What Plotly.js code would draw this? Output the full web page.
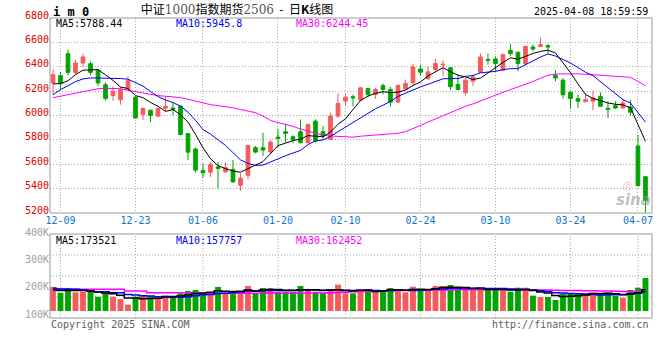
<!DOCTYPE html>
<html>
<head>
<meta charset="utf-8">
<script src="https://cdn.plot.ly/plotly-3.0.1.min.js"></script>
<style>html,body{margin:0;padding:0;background:#fff;}#chart{width:660px;height:360px;}</style>
</head>
<body>
<div id="chart"></div>
<script>
// ---------- data ----------
const dates = ['12-06','12-09','12-10','12-11','12-12','12-13','12-16','12-17','12-18','12-19','12-20','12-23','12-24','12-25','12-26','12-27','12-30','12-31',
'01-02','01-03','01-06','01-07','01-08','01-09','01-10','01-13','01-14','01-15','01-16','01-17','01-20','01-21','01-22','01-23','01-24','01-27',
'02-05','02-06','02-07','02-10','02-11','02-12','02-13','02-14','02-17','02-18','02-19','02-20','02-21','02-24','02-25','02-26','02-27','02-28',
'03-03','03-04','03-05','03-06','03-07','03-10','03-11','03-12','03-13','03-14','03-17','03-18','03-19','03-20','03-21','03-24','03-25','03-26','03-27','03-28','03-31',
'04-01','04-02','04-03','04-07','04-08'];

const openP = [6267,6327,6507,6354,6431,6425,6368,6253,6163,6130,
 6212,6150,6008,6043,5994,6059,6062,6076,5852,5726,
 5549,5535,5578,5537,5558,5427,5509,5736,5736,5700,
 5823,5867,5826,5867,5777,5954,5867,5804,5995,6118,
 6154,6126,6222,6173,6246,6214,6110,6219,6268,6382,
 6301,6377,6415,6391,6255,6187,6282,6355,6459,6464,
 6372,6535,6518,6426,6562,6567,6573,6330,6289,6190,
 6139,6114,6117,6158,6059,6081,6062,6070,5750,5498];
const highP = [6376,6357,6540,6458,6507,6444,6382,6272,6240,6234,
 6322,6158,6068,6049,6062,6158,6103,6081,5857,5735,
 5606,5617,5617,5613,5635,5526,5758,5750,5859,5796,
 5891,5932,5837,5968,5932,5968,5913,6023,6181,6181,
 6173,6235,6227,6227,6263,6235,6255,6295,6426,6418,
 6399,6464,6453,6399,6336,6309,6336,6508,6508,6486,
 6508,6589,6527,6573,6581,6640,6589,6371,6308,6199,
 6171,6180,6204,6190,6117,6117,6136,6130,5840,5500];
const lowP = [6171,6212,6330,6335,6398,6330,6240,6125,6122,6089,
 6207,5975,5961,5945,5988,6035,6000,5838,5634,5530,
 5489,5497,5400,5531,5449,5381,5477,5690,5668,5690,
 5736,5777,5771,5771,5771,5777,5799,5799,5982,6083,
 6077,6118,6154,6137,6173,6072,6105,6208,6246,6328,
 6295,6363,6323,6208,6208,6165,6241,6350,6418,6363,
 6363,6486,6363,6410,6527,6562,6508,6281,6139,6057,
 6062,6109,6043,6070,5980,6054,6057,6000,5424,5180];
const closeP = [6335,6261,6354,6431,6480,6354,6267,6139,6199,6212,
 6286,5980,6057,6000,6057,6076,6054,5844,5699,5552,
 5530,5598,5566,5572,5455,5485,5755,5700,5717,5782,
 5812,5853,5804,5777,5927,5790,5831,5995,6099,6151,
 6145,6227,6173,6214,6214,6110,6246,6263,6399,6355,
 6358,6426,6420,6236,6214,6290,6317,6480,6453,6426,
 6499,6508,6426,6567,6546,6581,6562,6308,6171,6139,
 6117,6130,6144,6076,6049,6062,6103,6027,5424,5301];

const ma5 = [6259,6262,6285,6335,6372,6376,6377,6334,6288,6234,
 6221,6163,6147,6107,6076,6034,6049,6006,5946,5845,
 5736,5645,5589,5564,5544,5535,5567,5593,5622,5688,
 5753,5773,5794,5806,5835,5830,5826,5864,5928,5973,
 6044,6123,6159,6182,6195,6188,6191,6209,6246,6275,
 6324,6360,6392,6359,6331,6317,6295,6307,6351,6393,
 6435,6473,6462,6485,6509,6526,6536,6513,6434,6352,
 6259,6173,6140,6121,6103,6092,6087,6064,5933,5788];
const ma10 = [6171,6212,6245,6278,6300,6308,6308,6308,6305,6303,
 6298,6270,6241,6197,6155,6127,6106,6077,6027,5961,
 5885,5847,5798,5755,5695,5636,5606,5591,5593,5616,
 5644,5670,5694,5714,5761,5792,5799,5829,5867,5904,
 5937,5975,6012,6055,6084,6116,6157,6184,6214,6235,
 6256,6276,6301,6303,6303,6321,6328,6350,6355,6362,
 6376,6384,6385,6418,6451,6480,6505,6488,6459,6431,
 6393,6355,6327,6277,6228,6176,6130,6102,6027,5946];
const ma30 = [6146,6158,6171,6185,6199,6212,6220,6223,6223,6220,
 6207,6196,6185,6171,6163,6158,6155,6147,6133,6117,
 6103,6089,6081,6075,6063,6050,6037,6023,5995,5960,
 5942,5929,5911,5889,5870,5852,5837,5832,5829,5827,
 5822,5830,5834,5841,5847,5848,5854,5868,5891,5918,
 5946,5973,6002,6024,6049,6076,6095,6121,6145,6167,
 6190,6212,6232,6259,6279,6306,6330,6340,6343,6342,
 6342,6338,6337,6333,6327,6326,6321,6313,6280,6244];

// volume, thousands of lots
const volumeK = [197,150,189,153,158,164,117,150,117,98,
 52,117,123,123,104,126,115,145,164,172,
 145,145,197,145,164,156,205,145,189,189,
 158,158,158,205,180,158,150,172,216,145,
 145,172,172,167,164,189,180,153,199,172,
 180,205,205,213,172,172,172,191,172,172,
 172,158,191,191,126,115,115,90,142,142,
 142,142,150,142,150,123,109,172,191,270];
const volMa5 = [172,167,167,167,169,163,156,148,141,129,
 107,107,101,103,104,119,118,123,131,144,
 148,154,165,161,159,161,173,163,172,177,
 177,168,170,174,172,172,170,173,175,168,
 166,170,170,160,164,173,174,171,177,179,
 177,182,192,195,195,193,187,184,176,176,
 176,173,173,177,168,156,148,127,118,121,
 126,132,144,144,145,141,135,139,149,173.5];
const volMa10 = [186,180,178,178,172,164,158,158,150,149,
 135,132,125,122,117,113,113,112,117,124,
 133,136,144,146,152,155,164,164,166,168,
 169,171,167,173,174,175,169,172,174,170,
 169,170,172,168,166,169,172,170,169,171,
 175,178,181,186,187,185,184,188,185,185,
 185,180,179,176,172,166,160,150,147,144,
 141,140,136,131,133,134,133,141,146,157.8];
const volMa30 = [178,178,178,178,178,178,178,178,178,178,
 164,164,164,150,150,150,150,150,150,150,
 145,145,145,145,145,145,145,145,146,147,
 146,146,145,147,148,147,148,149,152,154,
 157,159,161,162,164,166,168,169,170,170,
 171,173,173,175,176,176,175,177,176,176,
 176,176,177,177,175,173,172,170,167,167,
 167,166,165,164,164,162,159,160,160,162.5];

const dateTicks = ['12-09','12-23','01-06','01-20','02-10','02-24','03-10','03-24','04-07'];
const priceTicks = [5200,5400,5600,5800,6000,6200,6400,6600,6800];
const volTicks = [100,200,300,400];
const volTickText = ['100K','200K','300K','400K'];
const priceMaLabels = ['MA5:5788.44','MA10:5945.8','MA30:6244.45'];
const volMaLabels = ['MA5:173521','MA10:157757','MA30:162452'];
const maColors = ['#000000','#0000ff','#ff00ff'];
const titleText = '中证<span style="font-family:\'DejaVu Serif\';color:#555">1000</span>指数期货<span style="font-family:\'DejaVu Serif\';color:#555">2506</span>&nbsp; - &nbsp;日<b>K</b>线图';
const stampText = '2025-04-08 18:59:59';

// ---------- geometry helpers (pixel -> paper) ----------
const W = 660, H = 360;
const px = v => v / W;
const py = v => (H - v) / H;

const UP = '#f65a5a', DOWN = '#00a500', GRID = '#a8a8a8', FRAME = '#9a9a9a';
const mono = 'DejaVu Sans Mono, monospace';

const barColors = closeP.map((c, i) => c >= openP[i] ? UP : DOWN);

const traces = [
  {type:'candlestick', x:dates, open:openP, high:highP, low:lowP, close:closeP,
   xaxis:'x', yaxis:'y', whiskerwidth:0, hoverinfo:'skip',
   increasing:{line:{color:UP,width:1}, fillcolor:UP},
   decreasing:{line:{color:DOWN,width:1}, fillcolor:DOWN}},
  {type:'scatter', mode:'lines', x:dates, y:ma30, xaxis:'x', yaxis:'y', line:{color:maColors[2], width:1}, hoverinfo:'skip'},
  {type:'scatter', mode:'lines', x:dates, y:ma10, xaxis:'x', yaxis:'y', line:{color:maColors[1], width:1}, hoverinfo:'skip'},
  {type:'scatter', mode:'lines', x:dates, y:ma5, xaxis:'x', yaxis:'y', line:{color:maColors[0], width:1}, hoverinfo:'skip'},
  {type:'bar', x:dates, y:volumeK, xaxis:'x2', yaxis:'y2', marker:{color:barColors, line:{width:0}}, hoverinfo:'skip'},
  {type:'scatter', mode:'lines', x:dates, y:volMa30, xaxis:'x2', yaxis:'y2', line:{color:maColors[2], width:1.5, shape:'hvh'}, hoverinfo:'skip'},
  {type:'scatter', mode:'lines', x:dates, y:volMa10, xaxis:'x2', yaxis:'y2', line:{color:maColors[1], width:1.5, shape:'hvh'}, hoverinfo:'skip'},
  {type:'scatter', mode:'lines', x:dates, y:volMa5, xaxis:'x2', yaxis:'y2', line:{color:maColors[0], width:1.5, shape:'hvh'}, hoverinfo:'skip'},
  {type:'scatter', mode:'markers', x:[], y:[], xaxis:'x2', yaxis:'y3', hoverinfo:'skip'}
];

const xDomain = [px(50), px(652)];
const xRange = [-0.4, 79.87];

const shapes = [];
// panel frames
shapes.push({type:'rect', xref:'paper', yref:'paper', x0:xDomain[0], x1:xDomain[1], y0:py(213), y1:py(18), line:{color:FRAME, width:1}, layer:'above'});
shapes.push({type:'rect', xref:'paper', yref:'paper', x0:xDomain[0], x1:xDomain[1], y0:py(318), y1:py(234), line:{color:FRAME, width:1}, layer:'above'});
// volume panel dotted grid
[255, 276, 297].forEach(v => shapes.push({type:'line', xref:'paper', yref:'paper', x0:xDomain[0], x1:xDomain[1], y0:py(v), y1:py(v), line:{color:GRID, width:1, dash:'1px,2px'}, layer:'below'}));
dateTicks.forEach(d => {
  const i = dates.indexOf(d);
  shapes.push({type:'line', xref:'x2', yref:'paper', x0:i, x1:i, y0:py(318), y1:py(234), line:{color:GRID, width:1, dash:'1px,2px'}, layer:'below'});
});

const ann = (x, y, text, color, anchor, extra) => Object.assign({xref:'paper', yref:'paper', x:px(x), y:py(y), text:text, showarrow:false, xanchor:anchor, yanchor:'middle', font:{family:mono, size:10, color:color}}, extra || {});

const annotations = [
  ann(51, 12, '<b>i m 0</b>', '#000', 'left', {font:{family:mono, size:12, color:'#000'}}),
  ann(650, 12, stampText, '#000', 'right'),
  ann(54, 24, priceMaLabels[0], maColors[0], 'left'),
  ann(174, 24, priceMaLabels[1], maColors[1], 'left'),
  ann(294, 24, priceMaLabels[2], maColors[2], 'left'),
  ann(54, 240, volMaLabels[0], maColors[0], 'left'),
  ann(174, 240, volMaLabels[1], maColors[1], 'left'),
  ann(294, 240, volMaLabels[2], maColors[2], 'left'),
  ann(49, 324, 'Copyright 2025 SINA.COM', '#606060', 'left'),
  ann(651, 324, 'http://finance.sina.com.cn', '#606060', 'right'),
  ann(633, 200, '<b><i>sina</i></b>', 'rgba(150,150,150,0.6)', 'center', {font:{family:'DejaVu Sans', size:15, color:'rgba(150,150,150,0.6)'}}),
  ann(628, 186, '◎', 'rgba(235,80,80,0.45)', 'center', {font:{family:'DejaVu Sans', size:11, color:'rgba(235,80,80,0.45)'}})
];

const layout = {
  width: W, height: H,
  margin:{l:0, r:0, t:0, b:0, pad:0},
  paper_bgcolor:'#fff', plot_bgcolor:'#fff',
  showlegend:false, bargap:0.22,
  font:{family:mono, size:10, color:'#000'},
  title:{text:titleText, x:px(237), xanchor:'center', y:py(10), yanchor:'middle', font:{family:'Noto Sans CJK SC', size:12, color:'#000'}},
  xaxis:{type:'category', domain:xDomain, range:xRange, anchor:'y',
    tickmode:'array', tickvals:dateTicks, ticktext:dateTicks, ticks:'',
    tickfont:{family:mono, size:10, color:'#0a78d2'},
    showgrid:true, gridcolor:GRID, griddash:'1px,2px', gridwidth:1,
    showline:false, zeroline:false, rangeslider:{visible:false}, fixedrange:true},
  yaxis:{domain:[py(213), py(18)], range:[5200, 6800], anchor:'x',
    tickmode:'array', tickvals:priceTicks, ticks:'', ticklabelshift:-3,
    tickfont:{family:mono, size:10, color:'#e00000'},
    showgrid:true, gridcolor:GRID, griddash:'1px,2px', gridwidth:1,
    showline:false, zeroline:false, fixedrange:true},
  xaxis2:{type:'category', domain:xDomain, range:xRange, anchor:'y2',
    showticklabels:false, showgrid:false, showline:false, zeroline:false, ticks:'', fixedrange:true},
  yaxis2:{domain:[py(318), py(228)], range:[-57.4, 680.3], anchor:'x2',
    showticklabels:false, showgrid:false, showline:false, zeroline:false, ticks:'', fixedrange:true},
  yaxis3:{overlaying:'y2', anchor:'x2', side:'left', range:[86.1, 415.8],
    tickmode:'array', tickvals:volTicks, ticktext:volTickText, ticks:'',
    tickfont:{family:mono, size:10, color:'#a0a0a0'},
    showgrid:false, showline:false, zeroline:false, fixedrange:true},
  shapes: shapes,
  annotations: annotations
};

Plotly.newPlot('chart', traces, layout, {staticPlot:true, displayModeBar:false});
</script>
</body>
</html>
